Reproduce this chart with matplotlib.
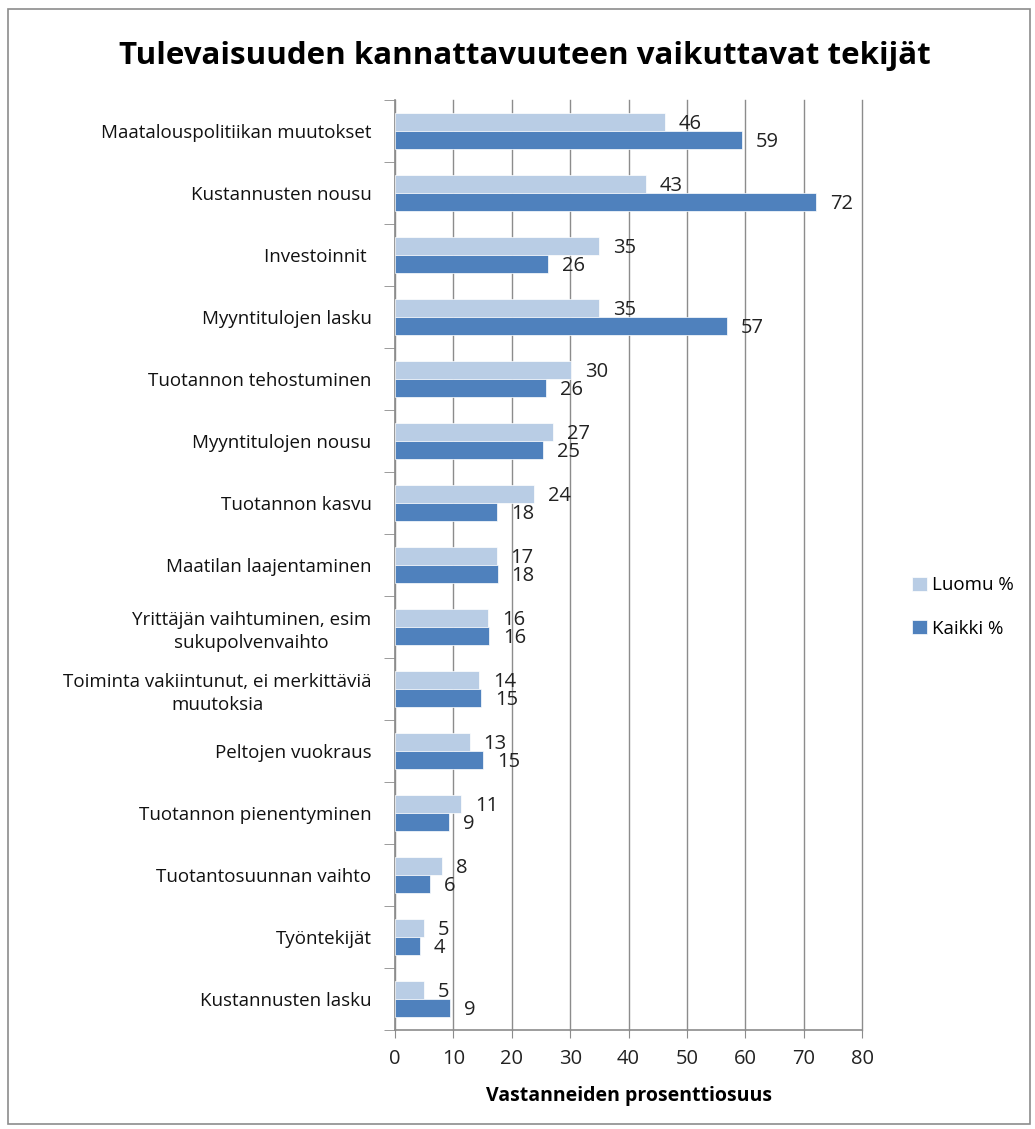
import numpy as np
import matplotlib
matplotlib.use("Agg")
import matplotlib.pyplot as plt
from matplotlib.patches import Rectangle

plt.rcParams['font.family'] = ['Open Sans', 'DejaVu Sans']

categories = ["Maatalouspolitiikan muutokset", "Kustannusten nousu", "Investoinnit ",
              "Myyntitulojen lasku", "Tuotannon tehostuminen", "Myyntitulojen nousu",
              "Tuotannon kasvu", "Maatilan laajentaminen",
              "Yrittäjän vaihtuminen, esim\nsukupolvenvaihto",
              "Toiminta vakiintunut, ei merkittäviä\nmuutoksia",
              "Peltojen vuokraus", "Tuotannon pienentyminen", "Tuotantosuunnan vaihto",
              "Työntekijät", "Kustannusten lasku"]
luomu = [46.2, 43.0, 34.9, 35.0, 30.1, 27.1, 23.8, 17.4, 15.9, 14.4, 12.8, 11.3, 8.0, 5.0, 5.0]
kaikki = [59.4, 72.1, 26.2, 56.8, 25.9, 25.3, 17.5, 17.6, 16.1, 14.7, 15.1, 9.2, 6.0, 4.3, 9.4]
xticks = [0, 10, 20, 30, 40, 50, 60, 70, 80]

c_luomu = "#B9CDE5"
c_kaikki = "#4F81BD"
grid_c = "#8C8C8C"

fig = plt.figure(figsize=(10.35, 11.29), dpi=100)
# outer chart border
fig.patches.append(Rectangle((0.008, 0.004), 0.987, 0.988, transform=fig.transFigure,
                             fill=False, edgecolor="#8C8C8C", linewidth=1.2))

ax = fig.add_axes([395/1035, 1 - 1030/1129, (862-395)/1035, (1030-100)/1129])

n = len(categories)
y = np.arange(n)
h = 0.29
ax.barh(y - h/2, luomu, height=h, color=c_luomu, edgecolor="white", linewidth=0.5,
        label="Luomu %", zorder=3)
ax.barh(y + h/2, kaikki, height=h, color=c_kaikki, edgecolor="white", linewidth=0.5,
        label="Kaikki %", zorder=3)

for i in range(n):
    ax.annotate(f"{luomu[i]:.0f}", (luomu[i], y[i] - h/2 + 0.04), xytext=(10, 0),
                textcoords="offset points", va="center", ha="left", fontsize=14.5, color="#222222")
    ax.annotate(f"{kaikki[i]:.0f}", (kaikki[i], y[i] + h/2 + 0.04), xytext=(10, 0),
                textcoords="offset points", va="center", ha="left", fontsize=14.5, color="#222222")

ax.set_xlim(0, 80)
ax.set_ylim(n - 0.5, -0.5)
ax.set_xticks(xticks)
ax.set_xticklabels([str(t) for t in xticks], fontsize=14.5, color="#222222")
ax.tick_params(axis='x', length=6, color=grid_c, pad=8)

ax.set_yticks(y)
ax.set_yticklabels(categories, fontsize=13.5, color="#111111", ha="right",
                   multialignment="center", linespacing=1.35)
ax.tick_params(axis='y', length=0, pad=17)
ax.set_yticks(np.arange(-0.5, n, 1), minor=True)
ax.tick_params(axis='y', which='minor', length=8, color=grid_c)

ax.grid(axis='x', color=grid_c, linewidth=1, zorder=0)
for gl in ax.get_xgridlines():
    gl.set_clip_on(False)
ax.set_axisbelow(True)
for s in ['top', 'right']:
    ax.spines[s].set_visible(False)
for s in ['left', 'bottom']:
    ax.spines[s].set_color(grid_c)
    ax.spines[s].set_linewidth(1.2)

ax.set_xlabel("Vastanneiden prosenttiosuus", fontsize=14, fontweight="bold", labelpad=12)

fig.text(0.507, 0.950, "Tulevaisuuden kannattavuuteen vaikuttavat tekijät",
         ha="center", va="center", fontsize=22.5, fontweight="bold")

leg = ax.legend(loc="center left", bbox_to_anchor=(1.072, 0.455), frameon=False,
                fontsize=13.5, handlelength=0.75, handleheight=0.75, handletextpad=0.3,
                labelspacing=1.35)

fig.savefig("out.png", dpi=100)
